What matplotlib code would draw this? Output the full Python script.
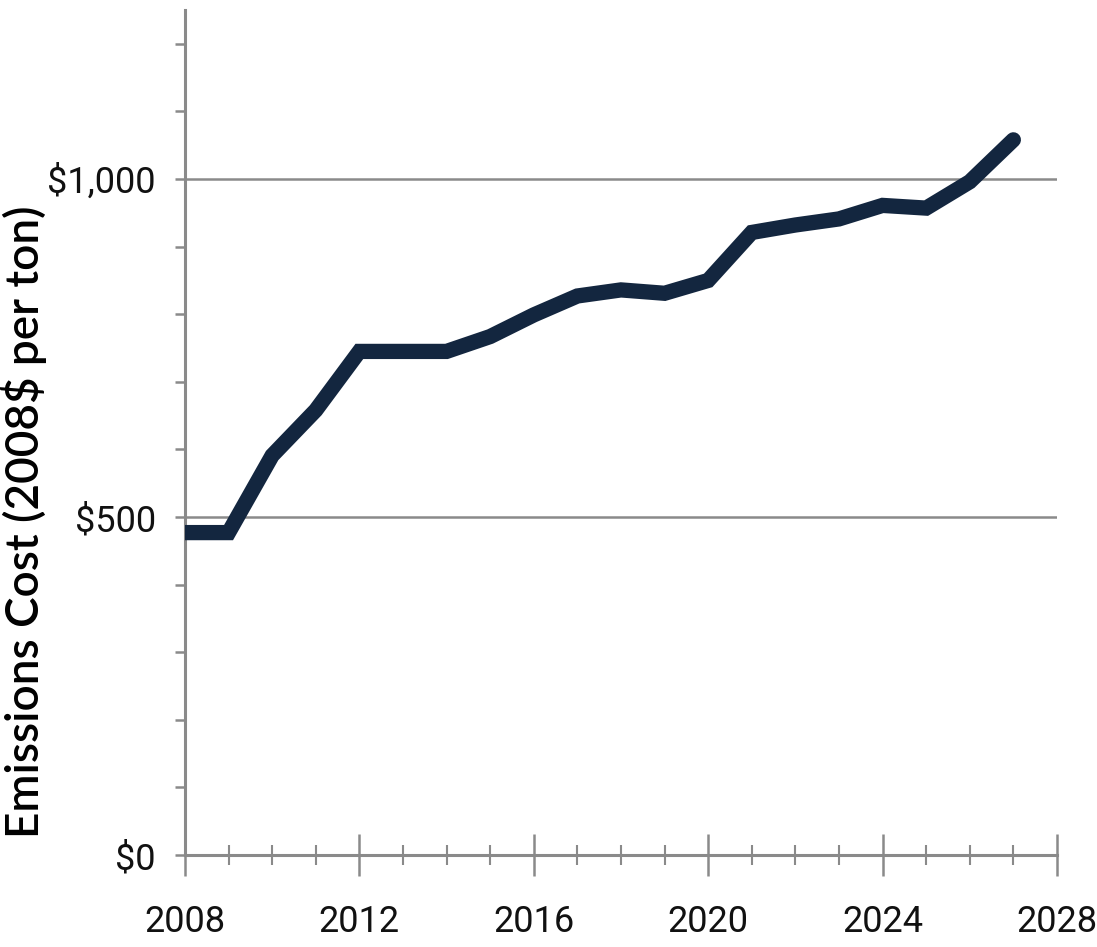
import matplotlib.pyplot as plt
import numpy as np

# data
years = [2008, 2009, 2010, 2011, 2012, 2013, 2014, 2015, 2016, 2017,
         2018, 2019, 2020, 2021, 2022, 2023, 2024, 2025, 2026, 2027]
cost = [477, 477, 591, 658, 745, 745, 745, 767, 799, 827,
        836, 831, 850, 921, 932, 941, 961, 957, 996, 1058]

x_major = [2008, 2012, 2016, 2020, 2024, 2028]
y_major = [0, 500, 1000]
y_labels = ['$0', '$500', '$1,000']

grey = '#8a8a8a'
navy = '#13263f'
tick_font = ['Roboto', 'DejaVu Sans']

fig = plt.figure(figsize=(10.97, 9.47), dpi=100)
ax = fig.add_axes([0.1686, 0.0971, 0.7949, 0.8923])

ax.plot(years, cost, color=navy, lw=11, solid_capstyle='round', solid_joinstyle='miter', zorder=3)

ax.set_xlim(2008, 2028)
ax.set_ylim(0, 1250)

# grid lines only at $500 and $1,000
for v in [500, 1000]:
    ax.axhline(v, color=grey, lw=1.8, zorder=1)

for s in ['top', 'right']:
    ax.spines[s].set_visible(False)
for s in ['left', 'bottom']:
    ax.spines[s].set_color(grey)
    ax.spines[s].set_linewidth(2.2)

ax.set_xticks(x_major)
ax.set_xticks(np.arange(2008, 2029, 1), minor=True)
ax.set_yticks(y_major)
ax.set_yticklabels(y_labels)
ax.set_yticks(np.arange(0, 1201, 100), minor=True)

ax.tick_params(axis='x', which='major', direction='inout', length=30, width=1.8, color=grey, pad=20)
ax.tick_params(axis='x', which='minor', direction='inout', length=14, width=1.5, color=grey)
ax.tick_params(axis='y', which='both', direction='out', length=7, width=1.8, color=grey, pad=14)

for lab in ax.get_xticklabels() + ax.get_yticklabels():
    lab.set_family(tick_font)
    lab.set_fontsize(26)
    lab.set_color('#111111')

ax.set_ylabel('Emissions Cost (2008$ per ton)', fontsize=33, family=['Lato', 'DejaVu Sans'],
              fontweight='semibold')
ax.yaxis.set_label_coords(-0.158, 0.394)

fig.savefig('out.png', dpi=100)
